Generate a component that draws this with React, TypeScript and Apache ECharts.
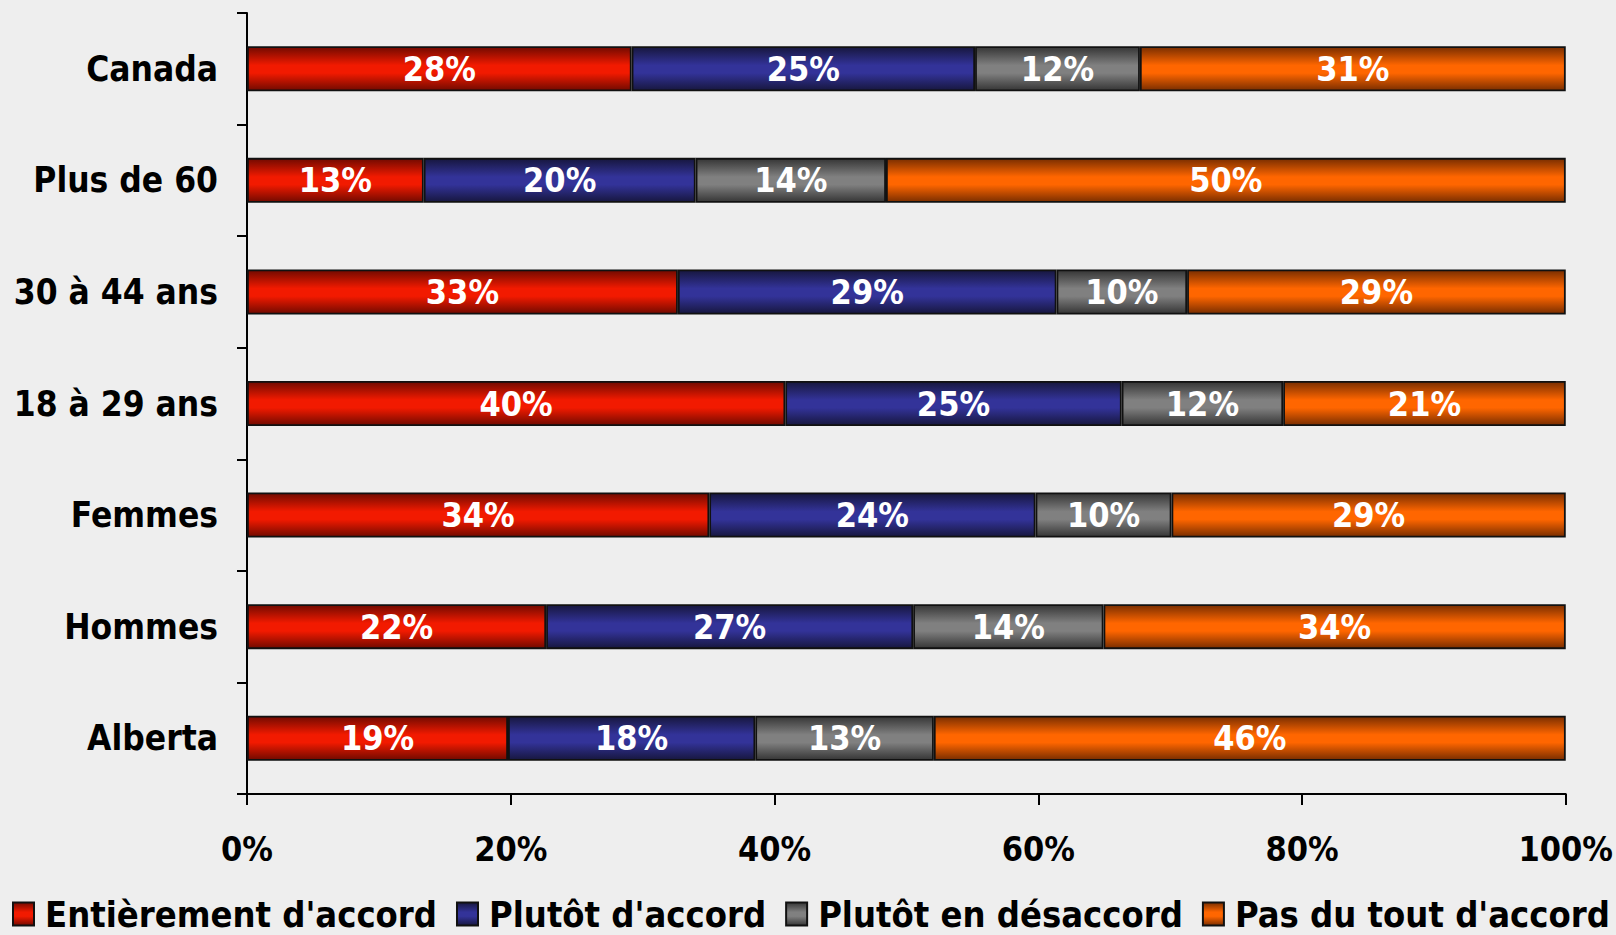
import React, { useEffect, useRef } from "react";
import * as echarts from "echarts";

const categories = ["Canada", "Plus de 60", "30 à 44 ans", "18 à 29 ans", "Femmes", "Hommes", "Alberta"];
const seriesNames = ["Entièrement d'accord", "Plutôt d'accord", "Plutôt en désaccord", "Pas du tout d'accord"];
const entierementAccord = [28, 13, 33, 40, 34, 22, 19];
const plutotAccord = [25, 20, 29, 25, 24, 27, 18];
const plutotDesaccord = [12, 14, 10, 12, 10, 14, 13];
const pasDuToutAccord = [31, 50, 29, 21, 29, 34, 46];
const xTicks = [0, 20, 40, 60, 80, 100];

const seriesValues = [entierementAccord, plutotAccord, plutotDesaccord, pasDuToutAccord];
const colorPairs = [
  ["#F21A00", "#720A00"],
  ["#333399", "#17173F"],
  ["#808080", "#363636"],
  ["#FF6600", "#7A2E00"],
];

const FONT = "'DejaVu Sans Condensed', 'DejaVu Sans', sans-serif";

function grad(bright: string, dark: string) {
  return new echarts.graphic.LinearGradient(0, 0, 0, 1, [
    { offset: 0, color: dark },
    { offset: 0.42, color: bright },
    { offset: 0.6, color: bright },
    { offset: 1, color: dark },
  ]);
}

export default function App() {
  const ref = useRef<HTMLDivElement>(null);
  useEffect(() => {
    document.body.style.margin = "0";
    document.body.style.background = "#EEEEEE";
    const chart = echarts.init(ref.current!, null, { renderer: "svg" });
    const totals = categories.map((_, i) => seriesValues.reduce((s, arr) => s + arr[i], 0));
    chart.setOption({
      animation: false,
      backgroundColor: "#EEEEEE",
      textStyle: { fontFamily: FONT },
      grid: { left: 247, right: 49, top: 13, bottom: 141, containLabel: false },
      legend: {
        left: 12,
        top: 896,
        padding: 0,
        itemWidth: 21,
        itemHeight: 23,
        itemGap: 19,
        icon: "rect",
        textStyle: {
          fontFamily: FONT,
          fontSize: 36,
          lineHeight: 36,
          fontWeight: "bold",
          color: "#000",
          padding: [0, 0, 0, 6],
        },
        data: seriesNames,
      },
      xAxis: {
        type: "value",
        min: 0,
        max: 100,
        interval: 20,
        data: xTicks,
        axisLine: { show: true, lineStyle: { color: "#000", width: 2 } },
        axisTick: { show: true, length: 11, lineStyle: { color: "#000", width: 2 } },
        splitLine: { show: false },
        axisLabel: {
          formatter: "{value}%",
          fontFamily: FONT,
          fontSize: 34,
          fontWeight: "bold",
          color: "#000",
          margin: 38,
        },
      },
      yAxis: {
        type: "category",
        inverse: true,
        data: categories,
        axisLine: { show: true, lineStyle: { color: "#000", width: 2 } },
        axisTick: { show: true, length: 10, alignWithLabel: false, lineStyle: { color: "#000", width: 2 } },
        axisLabel: {
          fontFamily: FONT,
          fontSize: 35,
          fontWeight: "bold",
          color: "#000",
          margin: 29,
        },
      },
      series: seriesNames.map((name, si) => ({
        name,
        type: "bar",
        stack: "total",
        barWidth: 45,
        data: seriesValues[si].map((v, i) => (v / totals[i]) * 100),
        itemStyle: {
          color: grad(colorPairs[si][0], colorPairs[si][1]),
          borderColor: "#111",
          borderWidth: 1.8,
        },
        label: {
          show: true,
          position: "inside",
          color: "#fff",
          fontFamily: FONT,
          fontSize: 34,
          fontWeight: "bold",
          formatter: (p: any) => `${seriesValues[si][p.dataIndex]}%`,
        },
      })),
    });
    return () => chart.dispose();
  }, []);
  return <div ref={ref} style={{ width: 1616, height: 935 }} />;
}
